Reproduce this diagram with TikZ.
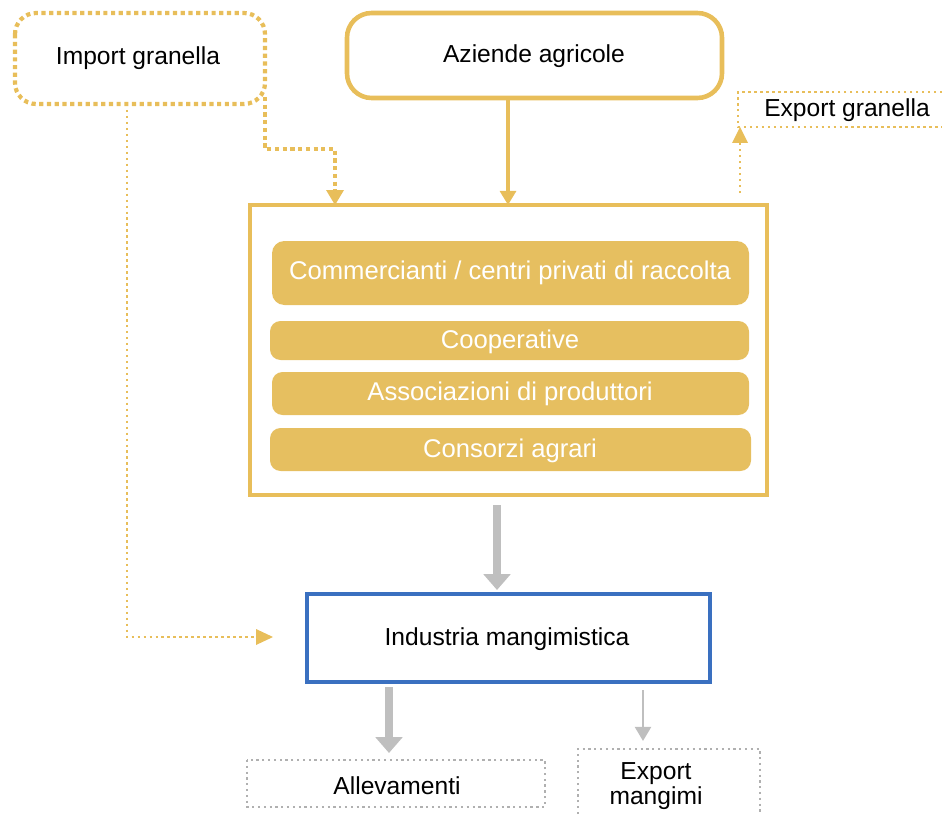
\documentclass[tikz,border=0pt]{standalone}
\usepackage{fontspec}
\setmainfont{Liberation Sans}
\usetikzlibrary{arrows.meta,positioning,calc}
\definecolor{gold}{HTML}{E8BE5A}
\definecolor{barfill}{HTML}{E6BF60}
\definecolor{greyarr}{HTML}{BFBFBF}
\definecolor{blueb}{HTML}{3A70C0}
\definecolor{dotgrey}{HTML}{B0B0B0}
\begin{document}
\begin{tikzpicture}[x=0.02cm,y=-0.02cm,
  lbl/.style={font=\fontsize{14}{16}\selectfont, text=black},
  barlbl/.style={font=\fontsize{14.6}{16}\selectfont, text=white},
  goldarrow/.style={gold, line width=2.2pt, -{Triangle[length=8pt,width=9pt]}},
  golddot/.style={gold, line width=2.4pt, dotted},
  thindot/.style={gold, line width=1.4pt, dotted},
  greythick/.style={greyarr, line width=5pt, -{Triangle[length=9pt,width=15pt]}},
  greythin/.style={greyarr, line width=1.6pt, -{Triangle[length=8pt,width=9pt]}},
  greydot/.style={dotgrey, line width=1.3pt, dotted}
]
\useasboundingbox (0,0) rectangle (942,814);

% Import granella
\draw[golddot, rounded corners=12pt] (15,13) rectangle (265,104);
\node[lbl] (imp) at (138,58) {Import granella};
\coordinate (impR) at (265,97);
\coordinate (impB) at (127,104);

% Aziende agricole
\draw[gold, line width=2.6pt, rounded corners=14pt] (347,13) rectangle (722,98);
\node[lbl] (az) at (534,56) {Aziende agricole};
\coordinate (azB) at (508,98);

% Export granella
\draw[thindot] (942,92) -- (738,92) -- (738,127) -- (942,127);
\node[lbl] (expg) at (847,110) {Export granella};
\coordinate (expgB) at (740,127);

% Container
\draw[gold, line width=2.4pt] (250,205) rectangle (767,495);
\coordinate (contT) at (508,205);
\coordinate (contB) at (497,505);

\fill[barfill, rounded corners=7pt] (272,241) rectangle (749,305);
\node[barlbl] (comm) at (510,273) {Commercianti / centri privati di raccolta};
\fill[barfill, rounded corners=6pt] (270,321) rectangle (749,360);
\node[barlbl] (coop) at (510,342) {Cooperative};
\fill[barfill, rounded corners=6pt] (272,372) rectangle (749,415);
\node[barlbl] (ass) at (510,394) {Associazioni di produttori};
\fill[barfill, rounded corners=6pt] (270,428) rectangle (751,471);
\node[barlbl] (cons) at (510,451) {Consorzi agrari};

% Industria
\draw[blueb, line width=2.4pt] (307,594) rectangle (710,682);
\node[lbl] (ind) at (507,639) {Industria mangimistica};
\coordinate (indT) at (497,590);

% Allevamenti
\draw[greydot] (247,760) rectangle (545,807);
\node[lbl] (all) at (397,786) {Allevamenti};
% Export mangimi
\draw[greydot] (578,814) -- (578,749) -- (760,749) -- (760,814);
\node[lbl, align=center, font=\fontsize{14}{14.5}\selectfont] (expm) at (656,786) {Export\\mangimi};

% Arrows
\draw[goldarrow] (azB) -- (contT);
\draw[golddot] (impR) -- (265,149) -- (335,149) -- (335,192);
\fill[gold] (326,190) -- (344,190) -- (335,205) -- cycle;
\draw[thindot] (impB) -- (127,637) -- (260,637);
\fill[gold] (256,629) -- (273,637) -- (256,645) -- cycle;
\draw[thindot] (740,193) -- (740,142);
\fill[gold] (732,143) -- (748,143) -- (740,127) -- cycle;
\draw[greythick] (contB) -- (indT);
\draw[greythick] (389,687) -- (389,753);
\draw[greythin] (643,690) -- (643,741);
\end{tikzpicture}
\end{document}
